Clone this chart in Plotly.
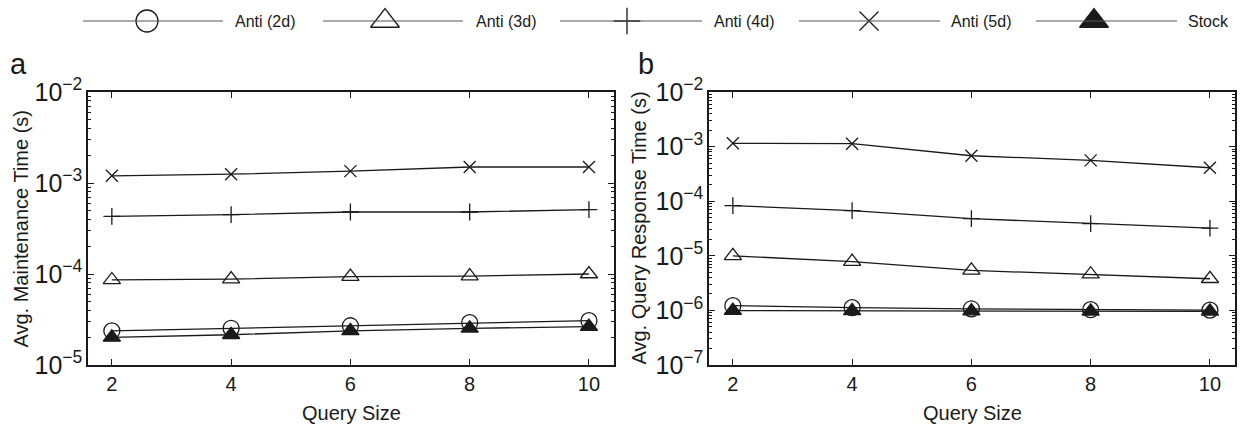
import plotly.graph_objects as go

# ---- data -------------------------------------------------------------
query_size = [2, 4, 6, 8, 10]

# (a) average maintenance time, seconds
maint_anti2d = [2.37e-5, 2.53e-5, 2.70e-5, 2.92e-5, 3.07e-5]
maint_anti3d = [8.6e-5, 8.8e-5, 9.35e-5, 9.5e-5, 1.0e-4]
maint_anti4d = [4.3e-4, 4.5e-4, 4.8e-4, 4.8e-4, 5.1e-4]
maint_anti5d = [1.2e-3, 1.25e-3, 1.35e-3, 1.5e-3, 1.5e-3]
maint_stock = [2.01e-5, 2.15e-5, 2.37e-5, 2.53e-5, 2.64e-5]

# (b) average query response time, seconds
resp_anti2d = [1.22e-6, 1.12e-6, 1.07e-6, 1.03e-6, 1.01e-6]
resp_anti3d = [1.0e-5, 7.8e-6, 5.4e-6, 4.6e-6, 3.8e-6]
resp_anti4d = [8.3e-5, 6.7e-5, 4.8e-5, 3.9e-5, 3.2e-5]
resp_anti5d = [1.15e-3, 1.13e-3, 6.8e-4, 5.6e-4, 4.1e-4]
resp_stock = [9.9e-7, 9.8e-7, 9.7e-7, 9.6e-7, 9.6e-7]

series_names = ["Anti (2d)", "Anti (3d)", "Anti (4d)", "Anti (5d)", "Stock"]
maint_values = [maint_anti2d, maint_anti3d, maint_anti4d, maint_anti5d, maint_stock]
resp_values = [resp_anti2d, resp_anti3d, resp_anti4d, resp_anti5d, resp_stock]

# ---- styling ----------------------------------------------------------
W, H = 1247, 428
FONT = "Liberation Sans, Arial, Helvetica, sans-serif"
INK = "#1a1a1a"

# symbol, plot size, legend size per series
styles = [
    dict(symbol="circle-open", size=16, lsize=22),
    dict(symbol="triangle-up-open", size=15, lsize=25),
    dict(symbol="cross-thin-open", size=12, lsize=19),
    dict(symbol="x-thin-open", size=12, lsize=19),
    dict(symbol="triangle-up", size=15, lsize=25),
]

# legend geometry in pixels: line start, line end, marker x, text x
legend_items = [
    (83, 223, 147, 233),
    (323, 463, 385, 474),
    (560, 702, 627, 712),
    (799, 940, 869, 949),
    (1036, 1177, 1094, 1186),
]
legend_y = 21

# panel boxes in pixels
panel_a = (88, 614)
panel_b = (709, 1235)
panel_top, panel_bottom = 92, 365


def px(x):
    return x / W


def py(y):
    return 1 - y / H


fig = go.Figure()

for vals_set, xa, ya in [(maint_values, "x", "y"), (resp_values, "x2", "y2")]:
    for name, vals, st in zip(series_names, vals_set, styles):
        fig.add_trace(go.Scatter(
            x=query_size, y=vals, name=name, mode="lines+markers",
            xaxis=xa, yaxis=ya, showlegend=False, cliponaxis=False,
            line=dict(color=INK, width=1.3),
            marker=dict(symbol=st["symbol"], size=st["size"], color=INK,
                        line=dict(color=INK, width=1.3)),
        ))

# legend row drawn on a hidden full-page axis
for (x0, x1, xm, xt), name, st in zip(legend_items, series_names, styles):
    fig.add_shape(type="line", xref="paper", yref="paper",
                  x0=px(x0), x1=px(x1), y0=py(legend_y), y1=py(legend_y),
                  line=dict(color="#555555", width=1.2))
    fig.add_trace(go.Scatter(
        x=[px(xm)], y=[py(legend_y)], mode="markers", xaxis="x3", yaxis="y3",
        showlegend=False, cliponaxis=False, hoverinfo="skip",
        marker=dict(symbol=st["symbol"], size=st["lsize"], color=INK,
                    line=dict(color=INK, width=1.3)),
    ))
    fig.add_annotation(x=px(xt), y=py(legend_y), xref="paper", yref="paper",
                       text=name, showarrow=False, xanchor="left", yanchor="middle",
                       font=dict(size=16, color=INK, family=FONT))

axis_common = dict(
    showline=True, linecolor=INK, linewidth=1.5, mirror="ticks",
    ticks="inside", ticklen=6, tickwidth=1.2, tickcolor=INK,
    showgrid=False, zeroline=False, automargin=False,
    tickfont=dict(size=20, color=INK, family=FONT),
)


def xaxis_for(box, anchor):
    return dict(axis_common, domain=[px(box[0]), px(box[1])], anchor=anchor,
                range=[1.6, 10.42], tickmode="linear", tick0=2, dtick=2)


def yaxis_for(lo, hi, anchor):
    return dict(axis_common, type="log", domain=[py(panel_bottom), py(panel_top)],
                anchor=anchor, range=[lo, hi], tickmode="linear", tick0=0, dtick=1,
                exponentformat="power",
                minor=dict(ticks="inside", ticklen=3, tickwidth=1, tickcolor=INK,
                           showgrid=False))


fig.update_layout(
    width=W, height=H, margin=dict(l=0, r=0, t=0, b=0),
    paper_bgcolor="white", plot_bgcolor="rgba(0,0,0,0)",
    font=dict(family=FONT, color=INK),
    xaxis=xaxis_for(panel_a, "y"),
    yaxis=yaxis_for(-5, -2, "x"),
    xaxis2=xaxis_for(panel_b, "y2"),
    yaxis2=yaxis_for(-7, -2, "x2"),
    xaxis3=dict(domain=[0, 1], range=[0, 1], visible=False, fixedrange=True, anchor="y3"),
    yaxis3=dict(domain=[0, 1], range=[0, 1], visible=False, fixedrange=True, anchor="x3"),
)

# axis titles and panel letters
for box, ytitle, letter, title_x, letter_x in [
    (panel_a, "Avg. Maintenance Time (s)", "a", 20, 8),
    (panel_b, "Avg. Query Response Time (s)", "b", 638, 636),
]:
    fig.add_annotation(x=px((box[0] + box[1]) / 2), y=py(413), xref="paper", yref="paper",
                       text="Query Size", showarrow=False, xanchor="center", yanchor="middle",
                       font=dict(size=20, color=INK, family=FONT))
    fig.add_annotation(x=px(title_x), y=py((panel_top + panel_bottom) / 2), xref="paper",
                       yref="paper", text=ytitle, textangle=-90, showarrow=False,
                       xanchor="center", yanchor="middle",
                       font=dict(size=20, color=INK, family=FONT))
    fig.add_annotation(x=px(letter_x), y=py(64), xref="paper", yref="paper",
                       text=letter, showarrow=False, xanchor="left", yanchor="middle",
                       font=dict(size=29, color=INK, family=FONT))

fig.write_html("out.html")
